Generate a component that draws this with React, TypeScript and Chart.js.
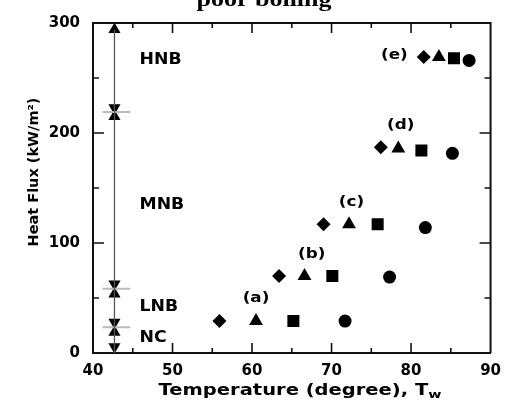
import React, { useEffect, useRef } from "react";
import { Chart, registerables } from "chart.js";

Chart.register(...registerables);

// ---- data ----
const diamondT = [55.9, 63.4, 69.0, 76.2, 81.6];
const diamondQ = [29, 70, 117, 187, 269];
const triangleT = [60.5, 66.6, 72.2, 78.4, 83.5];
const triangleQ = [29, 70, 117, 186, 269];
const squareT = [65.2, 70.1, 75.8, 81.3, 85.4];
const squareQ = [29, 70, 117, 184, 268];
const circleT = [71.7, 77.3, 81.8, 85.2, 87.3];
const circleQ = [29, 69, 114, 181.5, 266];

const caseLabels = ["(a)", "(b)", "(c)", "(d)", "(e)"];
const caseLabelT = [60.5, 67.5, 72.5, 78.7, 77.9];
const caseLabelQ = [50, 90, 137, 207, 271];

const regimeT = 42.7;
const regimeLine = [0, 294];
const upArrowQ = [294, 215, 53.6, 18.8];
const downArrowQ = [223, 62.7, 27.9, 5.7];
const boundaryQ = [219, 58.5, 23.4];
const boundaryT = [41.2, 44.7];
const regimeNames = ["HNB", "MNB", "LNB", "NC"];
const regimeNameQ = [266, 134.5, 41.5, 13.3];
const regimeNameT = 45.85;

const xTicks = [40, 50, 60, 70, 80, 90];
const xMinor = [45, 55, 65, 75, 85];
const yTicks = [0, 100, 200, 300];
const yMinor = [50, 150, 250];

const titleText = "poor boiling";
const xTitle = "Temperature (degree), T";
const xTitleSub = "w";
const yTitle = "Heat Flux (kW/m\u00B2)";

const SANS = "'DejaVu Sans', sans-serif";

function stretchedText(ctx: CanvasRenderingContext2D, text: string, x: number, y: number, font: string, sx: number, align: CanvasTextAlign = "center") {
  ctx.save();
  ctx.font = font;
  ctx.textAlign = align;
  ctx.textBaseline = "middle";
  ctx.translate(x, y);
  ctx.scale(sx, 1);
  ctx.fillText(text, 0, 0);
  ctx.restore();
}

const decorPlugin = {
  id: "decor",
  afterDraw(chart: any) {
    const ctx: CanvasRenderingContext2D = chart.ctx;
    const xs = chart.scales.x;
    const ys = chart.scales.y;
    const a = chart.chartArea;
    ctx.save();
    ctx.fillStyle = "#000";
    ctx.strokeStyle = "#111";
    // frame top/right
    ctx.lineWidth = 2;
    ctx.beginPath();
    ctx.moveTo(a.left, a.top);
    ctx.lineTo(a.right, a.top);
    ctx.lineTo(a.right, a.bottom);
    ctx.stroke();
    // inward ticks
    ctx.lineWidth = 1.6;
    const xt = (v: number, len: number) => {
      const px = xs.getPixelForValue(v);
      ctx.beginPath();
      ctx.moveTo(px, a.bottom);
      ctx.lineTo(px, a.bottom - len);
      ctx.moveTo(px, a.top);
      ctx.lineTo(px, a.top + len);
      ctx.stroke();
    };
    xTicks.slice(1, -1).forEach((v) => xt(v, 10));
    xMinor.forEach((v) => xt(v, 5));
    const yt = (v: number, len: number) => {
      const py = ys.getPixelForValue(v);
      ctx.beginPath();
      ctx.moveTo(a.left, py);
      ctx.lineTo(a.left + len, py);
      ctx.moveTo(a.right, py);
      ctx.lineTo(a.right - len, py);
      ctx.stroke();
    };
    yTicks.slice(1, -1).forEach((v) => yt(v, 11));
    yMinor.forEach((v) => yt(v, 6));

    // case labels
    caseLabels.forEach((t, i) => {
      stretchedText(ctx, t, xs.getPixelForValue(caseLabelT[i]), ys.getPixelForValue(caseLabelQ[i]), `bold 14px ${SANS}`, 1.2);
    });
    // regime names
    regimeNames.forEach((t, i) => {
      stretchedText(ctx, t, xs.getPixelForValue(regimeNameT), ys.getPixelForValue(regimeNameQ[i]), `bold 15px ${SANS}`, 1.15, "left");
    });

    // x title with subscript
    ctx.save();
    ctx.font = `bold 15px ${SANS}`;
    const mainW = ctx.measureText(xTitle).width;
    ctx.font = `bold 11px ${SANS}`;
    const subW = ctx.measureText(xTitleSub).width;
    const sx = 1.3;
    const total = (mainW + subW) * sx;
    const cx = 300;
    const left = cx - total / 2;
    ctx.translate(left, 391);
    ctx.scale(sx, 1);
    ctx.textAlign = "left";
    ctx.textBaseline = "middle";
    ctx.font = `bold 15px ${SANS}`;
    ctx.fillText(xTitle, 0, 0);
    ctx.font = `bold 11px ${SANS}`;
    ctx.fillText(xTitleSub, mainW, 4);
    ctx.restore();

    // y title
    ctx.save();
    ctx.translate(34, 172);
    ctx.rotate(-Math.PI / 2);
    ctx.font = `bold 14.5px ${SANS}`;
    ctx.textAlign = "center";
    ctx.textBaseline = "middle";
    ctx.fillText(yTitle, 0, 0);
    ctx.restore();

    // chart title (cut off at top)
    ctx.save();
    ctx.font = "bold 20px 'Liberation Serif', 'DejaVu Serif', serif";
    ctx.textAlign = "center";
    ctx.textBaseline = "alphabetic";
    ctx.translate(264, 6);
    ctx.scale(1.3, 1);
    ctx.fillText(titleText, 0, 0);
    ctx.restore();

    ctx.restore();
  },
};

const pts = (xs: number[], ys: number[]) => xs.map((x, i) => ({ x, y: ys[i] }));

export default function App() {
  const ref = useRef<HTMLCanvasElement | null>(null);
  useEffect(() => {
    if (!ref.current) return;
    const markerBase = { showLine: false, backgroundColor: "#000", borderColor: "#000", borderWidth: 0 };
    const chart = new Chart(ref.current, {
      type: "scatter",
      data: {
        datasets: [
          {
            label: "range",
            data: regimeLine.map((y) => ({ x: regimeT, y })),
            showLine: true,
            borderColor: "#555",
            borderWidth: 1.3,
            pointRadius: 0,
          },
          ...boundaryQ.map((q, i) => ({
            label: "boundary" + i,
            data: boundaryT.map((x) => ({ x, y: q })),
            showLine: true,
            borderColor: "#bbb",
            borderWidth: 2,
            pointRadius: 0,
          })),
          {
            ...markerBase,
            label: "up",
            data: upArrowQ.map((y) => ({ x: regimeT, y })),
            pointStyle: "triangle",
            pointRadius: 7,
          },
          {
            ...markerBase,
            label: "down",
            data: downArrowQ.map((y) => ({ x: regimeT, y })),
            pointStyle: "triangle",
            rotation: 180,
            pointRadius: 7,
          },
          { ...markerBase, label: "diamond", data: pts(diamondT, diamondQ), pointStyle: "rectRot", pointRadius: 7 },
          { ...markerBase, label: "triangle", data: pts(triangleT, triangleQ), pointStyle: "triangle", pointRadius: 8 },
          { ...markerBase, label: "square", data: pts(squareT, squareQ), pointStyle: "rect", pointRadius: 8.5 },
          { ...markerBase, label: "circle", data: pts(circleT, circleQ), pointStyle: "circle", pointRadius: 6.5 },
        ] as any,
      },
      options: {
        animation: false,
        responsive: false,
        devicePixelRatio: 1,
        layout: { padding: { top: 23, right: 16, left: 0, bottom: 0 } },
        plugins: { legend: { display: false }, tooltip: { enabled: false }, title: { display: false } },
        scales: {
          x: {
            type: "linear",
            min: 40,
            max: 90,
            afterFit: (s: any) => { s.height = 54; },
            afterBuildTicks: (s: any) => { s.ticks = xTicks.map((v) => ({ value: v })); },
            grid: { display: false, drawTicks: false },
            border: { display: true, color: "#111", width: 2 },
            ticks: { color: "#000", padding: 9, font: { family: SANS, size: 15, weight: "bold" } },
          },
          y: {
            type: "linear",
            min: 0,
            max: 300,
            afterFit: (s: any) => { s.width = 93; },
            afterBuildTicks: (s: any) => { s.ticks = yTicks.map((v) => ({ value: v })); },
            grid: { display: false, drawTicks: false },
            border: { display: true, color: "#111", width: 2 },
            ticks: { color: "#000", padding: 13, font: { family: SANS, size: 15, weight: "bold" } },
          },
        },
      } as any,
      plugins: [decorPlugin],
    });
    return () => chart.destroy();
  }, []);
  return (
    <div style={{ position: "absolute", left: 0, top: 0, width: 510, height: 407, background: "#fff" }}>
      <canvas ref={ref} width={510} height={407} style={{ display: "block" }} />
    </div>
  );
}
